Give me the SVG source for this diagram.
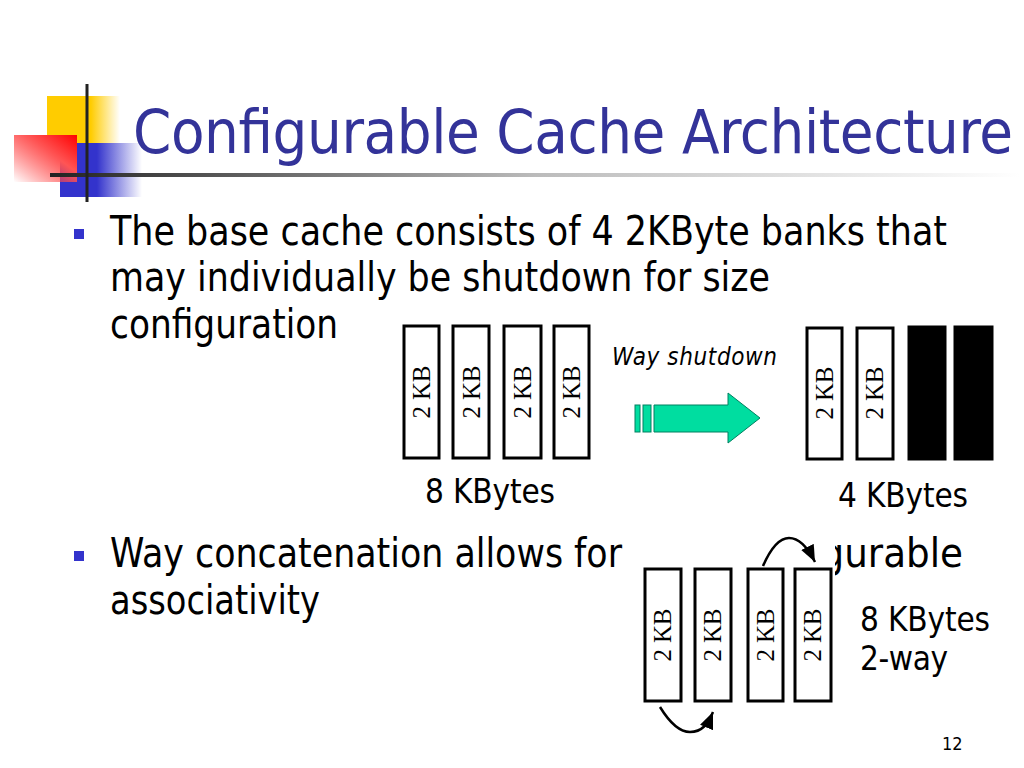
<svg xmlns="http://www.w3.org/2000/svg" width="1024" height="768" viewBox="0 0 1024 768">
<defs>
<linearGradient id="gYel" x1="0" y1="0" x2="1" y2="0"><stop offset="0" stop-color="#FFCC00"/><stop offset="0.6" stop-color="#FFCC00"/><stop offset="1" stop-color="#FFCC00" stop-opacity="0"/></linearGradient>
<linearGradient id="gBlue" x1="0" y1="0" x2="1" y2="0"><stop offset="0" stop-color="#3333CC"/><stop offset="0.45" stop-color="#3333CC"/><stop offset="1" stop-color="#3333CC" stop-opacity="0"/></linearGradient>
<linearGradient id="gRed" x1="1" y1="0" x2="0" y2="1"><stop offset="0" stop-color="#FF0000"/><stop offset="0.4" stop-color="#FF5555"/><stop offset="1" stop-color="#FF3333" stop-opacity="0"/></linearGradient>
<linearGradient id="gLine" x1="0" y1="0" x2="1" y2="0"><stop offset="0" stop-color="#222"/><stop offset="0.5" stop-color="#bbb"/><stop offset="1" stop-color="#fff"/></linearGradient>
<marker id="ah" viewBox="0 0 12 10" refX="12" refY="5" markerWidth="17" markerHeight="14" orient="auto" markerUnits="userSpaceOnUse"><path d="M0,0 L12,5 L0,10 z" fill="#000"/></marker>
</defs>
<style>
.t{font-family:"DejaVu Sans Condensed","DejaVu Sans",sans-serif;fill:#000}
.body{font-size:40px}
.bank{fill:#fff;stroke:#000;stroke-width:3}
.off{fill:#000;stroke:#000;stroke-width:1}
.kb{font-family:"Liberation Serif",serif;font-size:25px;fill:#000}
.lab{font-family:"DejaVu Sans Condensed","DejaVu Sans",sans-serif;font-size:33px;fill:#000}
.bullet{fill:#3333CC}
</style>
<rect width="1024" height="768" fill="#fff"/>
<g id="logo">
<rect x="47" y="96" width="73" height="47" fill="url(#gYel)"/>
<rect x="60" y="143" width="82" height="54" fill="url(#gBlue)"/>
<rect x="14" y="135" width="63" height="47" fill="url(#gRed)"/>
<rect x="50" y="173" width="970" height="4" fill="url(#gLine)"/>
<rect x="85.5" y="84" width="3" height="118" fill="#222"/>
</g>
<text id="title" x="133" y="153" style="font-family:'DejaVu Sans Condensed','DejaVu Sans',sans-serif;font-size:61px;fill:#333399" textLength="880">Configurable Cache Architecture</text>
<g id="bullets">
<rect class="bullet" x="74" y="229" width="10" height="10"/>
<text class="t body" x="110" y="245" textLength="837" lengthAdjust="spacingAndGlyphs">The base cache consists of 4 2KByte banks that</text>
<text class="t body" x="110" y="291" textLength="660" lengthAdjust="spacingAndGlyphs">may individually be shutdown for size</text>
<text class="t body" x="110" y="338" textLength="228" lengthAdjust="spacingAndGlyphs">configuration</text>
<rect class="bullet" x="74" y="551" width="10" height="10"/>
<text class="t body" y="567"><tspan x="110" textLength="512" lengthAdjust="spacingAndGlyphs">Way concatenation allows for</tspan> <tspan x="730" textLength="233" lengthAdjust="spacingAndGlyphs">configurable</tspan></text>
<text class="t body" x="110" y="614" textLength="210" lengthAdjust="spacingAndGlyphs">associativity</text>
</g>
<g id="base-cache">
<rect class="bank" x="404" y="326" width="35" height="132"/>
<rect class="bank" x="453" y="326" width="36" height="132"/>
<rect class="bank" x="504" y="326" width="37" height="132"/>
<rect class="bank" x="554" y="326" width="35" height="132"/>
<text class="kb" transform="translate(430,392) rotate(-90)" text-anchor="middle" textLength="53">2 KB</text>
<text class="kb" transform="translate(480,392) rotate(-90)" text-anchor="middle" textLength="53">2 KB</text>
<text class="kb" transform="translate(531,392) rotate(-90)" text-anchor="middle" textLength="53">2 KB</text>
<text class="kb" transform="translate(580,392) rotate(-90)" text-anchor="middle" textLength="53">2 KB</text>
<text class="lab" x="425" y="503" textLength="130">8 KBytes</text>
</g>
<text id="way-shutdown" x="612" y="365" style="font-family:'DejaVu Sans Condensed','DejaVu Sans',sans-serif;font-size:24px;font-style:italic;fill:#000" textLength="165">Way shutdown</text>
<g id="shutdown-cache">
<rect class="bank" x="807" y="328" width="35" height="131"/>
<rect class="bank" x="857" y="328" width="36" height="131"/>
<rect class="off" x="908" y="326" width="38" height="134"/>
<rect class="off" x="954" y="326" width="39" height="134"/>
<text class="kb" transform="translate(833,393) rotate(-90)" text-anchor="middle" textLength="53">2 KB</text>
<text class="kb" transform="translate(883,393) rotate(-90)" text-anchor="middle" textLength="53">2 KB</text>
<text class="lab" x="838" y="507" textLength="130">4 KBytes</text>
</g>
<g id="concat-cache">
<rect x="632" y="532" width="203" height="206" fill="#fff"/>
<rect class="bank" x="645" y="569" width="36" height="132"/>
<rect class="bank" x="695" y="569" width="36" height="132"/>
<rect class="bank" x="748" y="569" width="35" height="132"/>
<rect class="bank" x="795" y="569" width="36" height="132"/>
<text class="kb" transform="translate(671,635) rotate(-90)" text-anchor="middle" textLength="53">2 KB</text>
<text class="kb" transform="translate(721,635) rotate(-90)" text-anchor="middle" textLength="53">2 KB</text>
<text class="kb" transform="translate(774,635) rotate(-90)" text-anchor="middle" textLength="53">2 KB</text>
<text class="kb" transform="translate(821,635) rotate(-90)" text-anchor="middle" textLength="53">2 KB</text>
</g>
<g id="connectors">
<g id="shutdown-arrow" fill="#00DDA0" stroke="#008060" stroke-width="1">
<rect x="635" y="405" width="5" height="27"/>
<rect x="643" y="405" width="8" height="27"/>
<path d="M654,405 L728,405 L728,393 L760,418 L728,443 L728,432 L654,432 Z"/>
</g>
<path d="M763,566 C770,550 778,538 789,538 C800,538 808,548 815,562" fill="none" stroke="#000" stroke-width="2.5" marker-end="url(#ah)"/>
<path d="M660,707 C668,720 678,732 690,732 C702,732 708,724 713,712" fill="none" stroke="#000" stroke-width="2.5" marker-end="url(#ah)"/>
</g>
<g id="concat-labels">
<text class="lab" x="860" y="631" textLength="130">8 KBytes</text>
<text class="lab" x="860" y="670" textLength="88">2-way</text>
</g>
<text id="page" x="942" y="750" style="font-family:'DejaVu Sans Condensed','DejaVu Sans',sans-serif;font-size:18px;fill:#000">12</text>
</svg>
